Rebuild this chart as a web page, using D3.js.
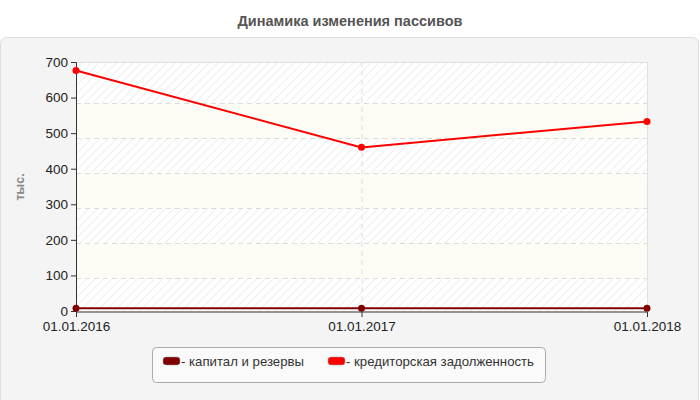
<!DOCTYPE html>
<html><head><meta charset="utf-8">
<script src="https://cdn.jsdelivr.net/npm/d3@7"></script>
<style>body{margin:0;background:#fff;font-family:"Liberation Sans",Arial,sans-serif}</style>
</head><body><svg id="c" width="700" height="400"></svg>
<script>
const categories = ["01.01.2016","01.01.2017","01.01.2018"];
const seriesNames = ["капитал и резервы","кредиторская задолженность"];
const seriesColors = ["#800000","#ff0000"];
const capital = [8, 8, 8];
const payables = [676, 460, 533];
const yTicks = [0,100,200,300,400,500,600,700];
const title = "Динамика изменения пассивов";
const yLabel = "тыс.";

const svg = d3.select("#c");
const defs = svg.append("defs");
const pat = defs.append("pattern").attr("id","hatch").attr("width",6).attr("height",6)
  .attr("patternUnits","userSpaceOnUse").attr("patternTransform","rotate(-45)");
pat.append("rect").attr("width",6).attr("height",6).attr("fill","#fff");
pat.append("line").attr("x1",0).attr("y1",0).attr("x2",6).attr("y2",0).attr("stroke","#eeeeee").attr("stroke-width",2);

svg.append("text").attr("x",350).attr("y",26).attr("text-anchor","middle")
  .attr("font-size",14.5).attr("font-weight","bold").attr("fill","#555").text(title);
svg.append("rect").attr("x",0.5).attr("y",37.5).attr("width",698).attr("height",370).attr("rx",6)
  .attr("fill","#f4f4f4").attr("stroke","#dedede");

const L=76,R=647,T=62,B=311;
const x = d3.scalePoint().domain(categories).range([L,R]);
const y = d3.scaleLinear().domain([0,700]).range([B,T]);
const yg = d3.scaleLinear().domain([0,700]).range([313.3,68.3]);

svg.append("rect").attr("x",L).attr("y",T).attr("width",R-L).attr("height",B-T).attr("fill","url(#hatch)");
const bands = yTicks.slice(0,-1);
svg.append("g").selectAll("rect").data(bands.filter((d,i)=>i%2===1)).join("rect")
  .attr("x",L).attr("width",R-L)
  .attr("y",d=>yg(d+100)).attr("height",d=>Math.min(yg(d),B)-yg(d+100))
  .attr("fill","#fdfdf5").attr("opacity",0.85);
svg.append("path").attr("d",`M${L},${T+0.5}H${R+0.5}V${B}`).attr("fill","none").attr("stroke","#e0e0e0");
svg.append("g").selectAll("line").data(yTicks.filter(d=>d>0&&d<700)).join("line")
  .attr("x1",L).attr("x2",R).attr("y1",d=>Math.round(yg(d))+0.5).attr("y2",d=>Math.round(yg(d))+0.5)
  .attr("stroke","#dcdcdc").attr("stroke-dasharray","5,4");
svg.append("g").selectAll("line").data(categories.slice(1,-1)).join("line")
  .attr("x1",d=>x(d)+0.5).attr("x2",d=>x(d)+0.5).attr("y1",T).attr("y2",B)
  .attr("stroke","#dcdcdc").attr("stroke-dasharray","5,4");

const ya = svg.append("g").attr("transform",`translate(${L},0)`)
  .call(d3.axisLeft(y).tickValues(yTicks).tickSize(5).tickPadding(3));
const xa = svg.append("g").attr("transform",`translate(0,${B+1})`)
  .call(d3.axisBottom(x).tickSize(5).tickPadding(4));
[ya,xa].forEach(a=>{a.select(".domain").attr("stroke","#333");a.selectAll(".tick line").attr("stroke","#333");
  a.selectAll("text").attr("font-size",13.5).attr("fill","#222").attr("font-family","Liberation Sans, Arial, sans-serif");});
xa.select(".domain").attr("d",`M${L},0H${R}`);

svg.append("text").attr("transform","translate(24,187) rotate(-90)").attr("text-anchor","middle")
  .attr("font-size",12.5).attr("font-weight","bold").attr("fill","#888").text(yLabel);

const series=[capital,payables];
const line=d3.line().x((d,i)=>x(categories[i])).y(d=>y(d));
series.forEach((s,k)=>{
  svg.append("path").datum(s).attr("d",line).attr("fill","none").attr("stroke",seriesColors[k]).attr("stroke-width",2);
  svg.append("g").selectAll("circle").data(s).join("circle")
    .attr("cx",(d,i)=>x(categories[i])).attr("cy",d=>y(d)).attr("r",3.5).attr("fill",seriesColors[k]);
});

const lg=svg.append("g");
lg.append("rect").attr("x",152.5).attr("y",347.5).attr("width",393).attr("height",35).attr("rx",4)
  .attr("fill","#fafafa").attr("stroke","#aaa");
const lx=[163,328];
seriesNames.forEach((n,k)=>{
  lg.append("rect").attr("x",lx[k]).attr("y",357).attr("width",17).attr("height",8).attr("rx",3)
    .attr("fill",seriesColors[k]).attr("stroke","#999").attr("stroke-width",0.5);
  lg.append("text").attr("x",lx[k]+18).attr("y",366).attr("font-size",13.2).attr("fill","#333").text("- "+n);
});
</script></body></html>
